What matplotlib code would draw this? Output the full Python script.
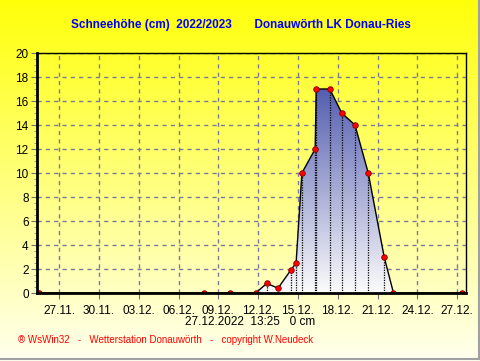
import matplotlib
matplotlib.use("Agg")
import matplotlib.pyplot as plt
import matplotlib.dates as mdates
import numpy as np
import pandas as pd

# Schneehöhe Messpunkte (cm)
times = ["2022-11-25 12:00", "2022-12-07 22:20", "2022-12-09 21:40",
         "2022-12-11 19:40", "2022-12-12 15:35", "2022-12-13 12:00",
         "2022-12-14 11:00", "2022-12-14 20:40", "2022-12-15 07:10",
         "2022-12-16 07:10", "2022-12-16 09:00", "2022-12-17 09:35",
         "2022-12-18 07:10", "2022-12-19 07:10", "2022-12-20 07:10",
         "2022-12-21 12:00", "2022-12-22 04:50", "2022-12-27 09:35"]
snow = [0, 0, 0, 0, 0.8, 0.4, 1.9, 2.5, 10, 12, 17, 17, 15, 14, 10, 3, 0, 0]

x_start = "2022-11-25 08:00"
x_end = "2022-12-27 16:00"
tick_days = ["2022-11-27", "2022-11-30", "2022-12-03", "2022-12-06",
             "2022-12-09", "2022-12-12", "2022-12-15", "2022-12-18",
             "2022-12-21", "2022-12-24", "2022-12-27"]

title = "Schneehöhe (cm)  2022/2023       Donauwörth LK Donau-Ries"
status = "27.12.2022  13:25   0 cm"
footer = "® WsWin32   -   Wetterstation Donauwörth   -   copyright W.Neudeck"

plt.rcParams['font.family'] = ['Liberation Sans', 'DejaVu Sans']

t = mdates.date2num(pd.to_datetime(times))
x0 = mdates.date2num(pd.Timestamp(x_start))
x1 = mdates.date2num(pd.Timestamp(x_end))
ticks = mdates.date2num(pd.to_datetime(tick_days))

fig = plt.figure(figsize=(4.81, 3.61), dpi=100)

# yellow background gradient across whole figure
bg = fig.add_axes([0, 0, 1, 1], zorder=-10)
grad = np.linspace(0, 1, 256).reshape(-1, 1)
top_c = np.array([255, 255, 10]) / 255
bot_c = np.array([255, 255, 238]) / 255
img = top_c[None, None, :] * (1 - grad[:, :, None]) + bot_c[None, None, :] * grad[:, :, None]
bg.imshow(img, aspect='auto', extent=[0, 1, 0, 1], origin='upper')
bg.set_xlim(0, 1)
bg.set_ylim(0, 1)
bg.axis('off')
# gray frame right / bottom
bg.plot([0.996, 0.996], [0.005, 1], color='#a0a0a0', lw=1.5)
bg.plot([0, 0.996], [0.005, 0.005], color='#a0a0a0', lw=1.5)

ax = fig.add_axes([37 / 481, 68 / 361, 429 / 481, 240 / 361])
ax.patch.set_alpha(0)
ax.set_xlim(x0, x1)
ax.set_ylim(0, 20)

# blue gradient fill under the curve
poly = ax.fill_between(t, snow, 0, facecolor='none', edgecolor='none')
g = np.linspace(0, 1, 256).reshape(-1, 1)
blue = np.array([84, 94, 176]) / 255
white = np.array([252, 252, 252]) / 255
gimg = blue[None, None, :] * (1 - g[:, :, None]) + white[None, None, :] * g[:, :, None]
im = ax.imshow(gimg, aspect='auto', extent=[x0, x1, 0, max(snow)],
               origin='upper', zorder=2)
im.set_clip_path(poly.get_paths()[0], transform=ax.transData)

ax.vlines(t, 0, snow, colors='black', linestyles=(0, (1, 1)), lw=0.9, zorder=3)
ax.plot(t, snow, color='black', lw=1, zorder=4)
ax.plot(t, snow, 'o', ms=4, mfc='#ff0000', mec='#800000', mew=0.6, zorder=5)

ax.set_xticks(ticks)
ax.set_xticklabels([pd.Timestamp(d).strftime("%d.%m.") for d in tick_days])
ax.set_yticks(range(0, 21, 2))
ax.set_yticks(np.arange(0, 20.1, 0.5), minor=True)
ax.grid(True, color='#7a7a9a', linestyle=(0, (3, 3)), lw=1, zorder=1)
ax.tick_params(axis='x', which='major', length=4, direction='out', color='#707070',
               labelsize=8.5, pad=5)
ax.tick_params(axis='y', which='major', length=4, direction='out', color='#707070',
               labelsize=8.5, pad=2)
ax.tick_params(axis='y', which='minor', length=2, direction='out', color='#909090')

for side, w in (('left', 2), ('bottom', 2), ('top', 1), ('right', 1)):
    ax.spines[side].set_linewidth(w)
    ax.spines[side].set_color('black')
    ax.spines[side].set_zorder(6)

fig.text(0.5, 1 - 25 / 361, title, color='#0000ff', fontsize=8.5,
         fontweight='bold', ha='center', va='center')
fig.text(250 / 481, 1 - 322 / 361, status, color='black', fontsize=8.5,
         ha='center', va='center')
fig.text(18 / 481, 1 - 340 / 361, footer, color='#ff0000', fontsize=7,
         ha='left', va='center')

fig.savefig("out.png", dpi=100)
